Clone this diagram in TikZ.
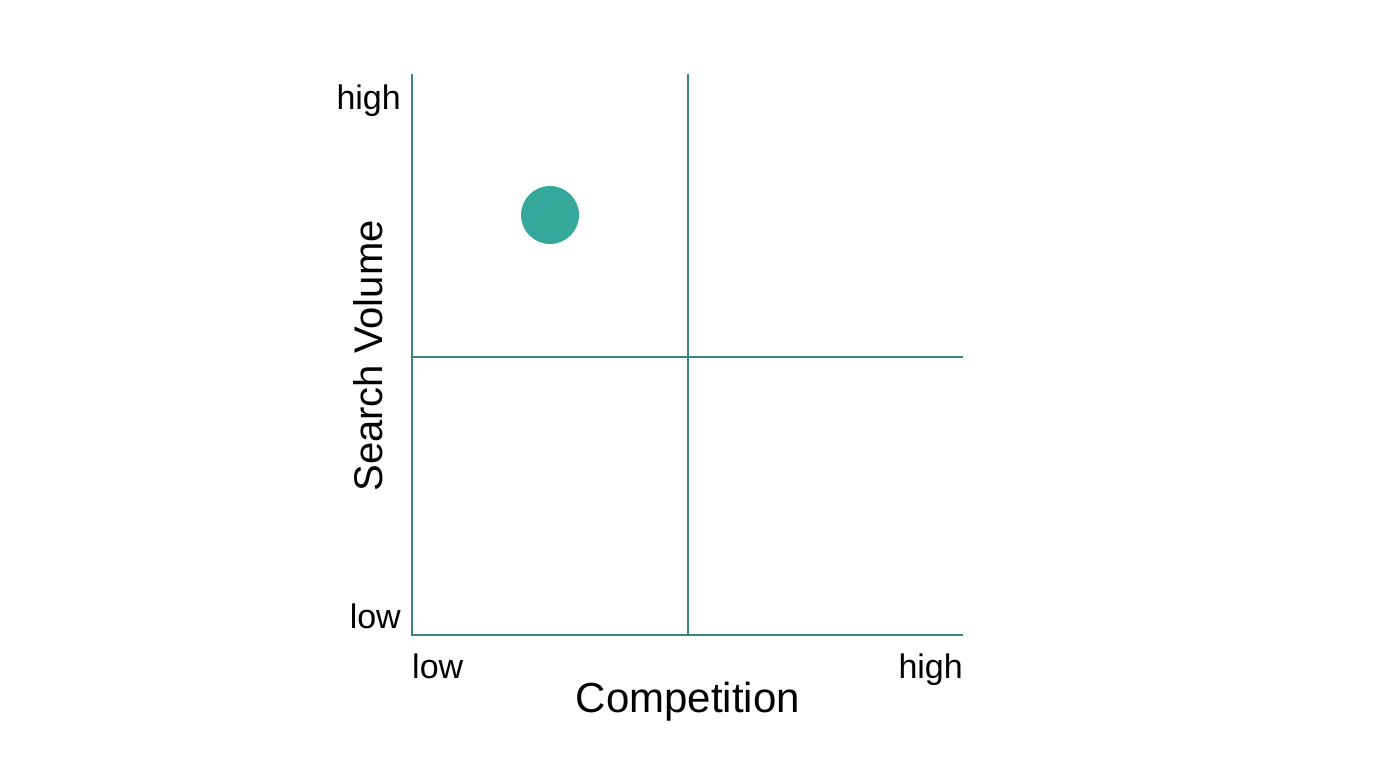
\documentclass[tikz,border=0pt]{standalone}
\usepackage{fontspec}
\setmainfont{Liberation Sans}
\definecolor{axisc}{HTML}{3B8585}
\definecolor{dotc}{HTML}{36A89B}
\begin{document}
\begin{tikzpicture}[x=1pt,y=-1pt,
  axis/.style={draw=axisc,line width=2pt},
  lbl/.style={inner sep=0pt,font=\fontsize{34}{40}\selectfont},
  title/.style={inner sep=0pt,font=\fontsize{41}{48}\selectfont}]
\useasboundingbox[fill=white] (0,0) rectangle (1376,768);
\coordinate (tl) at (412,74);
\coordinate (bl) at (412,635);
\coordinate (br) at (963,635);
\coordinate (mt) at (688,74);
\coordinate (mb) at (688,635);
\coordinate (ml) at (412,357);
\coordinate (mr) at (963,357);
\draw[axis] (tl) -- (bl) -- (br);
\draw[axis] (mt) -- (mb);
\draw[axis] (ml) -- (mr);
\node[circle,fill=dotc,minimum size=58pt,inner sep=0pt] (dot) at (550,215) {};
\node[lbl,anchor=base east] (yhigh) at (401,110) {high};
\node[lbl,anchor=base east] (ylow) at (401,628) {low};
\node[lbl,anchor=base west] (xlow) at (412,678) {low};
\node[lbl,anchor=base east] (xhigh) at (963,678) {high};
\node[title,anchor=base,font=\fontsize{42}{48}\selectfont] (xt) at (688,712) {Competition};
\node[title,anchor=base,rotate=90,font=\fontsize{40}{46}\selectfont] (yt) at (382,356) {Search Volume};
\end{tikzpicture}
\end{document}
